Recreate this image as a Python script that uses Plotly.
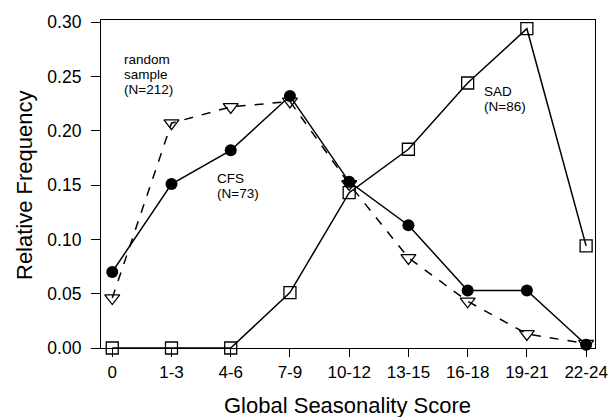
import plotly.graph_objects as go

categories = ["0", "1-3", "4-6", "7-9", "10-12", "13-15", "16-18", "19-21", "22-24"]
cfs = [0.070, 0.151, 0.182, 0.232, 0.153, 0.113, 0.053, 0.053, 0.003]
random_sample = [0.046, 0.207, 0.222, 0.227, 0.151, 0.083, 0.043, 0.013, 0.004]
sad = [0.0, 0.0, 0.0, 0.051, 0.143, 0.183, 0.244, 0.294, 0.094]
y_ticks = [0.0, 0.05, 0.10, 0.15, 0.20, 0.25, 0.30]

xs = list(range(len(categories)))
fig = go.Figure()
fig.add_trace(go.Scatter(x=xs, y=sad, mode="lines+markers", cliponaxis=False,
                         line=dict(color="black", width=1.5),
                         marker=dict(symbol="square-open", size=12, color="black", line=dict(width=1.3))))
fig.add_trace(go.Scatter(x=xs, y=random_sample, mode="lines+markers", cliponaxis=False,
                         line=dict(color="black", width=1.5, dash="dash"),
                         marker=dict(symbol="triangle-down-open", size=13, color="black", line=dict(width=1.3))))
fig.add_trace(go.Scatter(x=xs, y=cfs, mode="lines+markers", cliponaxis=False,
                         line=dict(color="black", width=1.5),
                         marker=dict(symbol="circle", size=12, color="black")))

font = dict(family="Liberation Sans, Arial, sans-serif", color="black")
L, R, T, B = 101, 15, 20, 69
fig.update_layout(
    width=610, height=417,
    margin=dict(l=L, r=R, t=T, b=B, autoexpand=False),
    paper_bgcolor="white", plot_bgcolor="white",
    showlegend=False,
    font=font,
    xaxis=dict(range=[-0.19, 8.15], tickmode="array", tickvals=xs, ticktext=categories,
               ticks="outside", ticklen=8, tickcolor="black", showgrid=False, zeroline=False,
               showline=True, linecolor="black", linewidth=1.2, mirror=True, automargin=False,
               tickfont=dict(size=17, **font)),
    yaxis=dict(range=[0, 0.302], tickmode="array", tickvals=y_ticks,
               ticktext=[f"{v:.2f}" for v in y_ticks],
               ticks="outside", ticklen=9, tickcolor="black", showgrid=False, zeroline=False,
               showline=True, linecolor="black", linewidth=1.2, mirror=True, automargin=False,
               ticklabelstandoff=6,
               tickfont=dict(size=17.5, **font)),
)
title_font = dict(size=22, **font)
pw, ph = 610 - L - R, 417 - T - B
bottom_px = 417 - B
fig.add_annotation(x=(347 - L) / pw, y=-(405 - bottom_px) / ph, xref="paper", yref="paper",
                   text="Global Seasonality Score", showarrow=False, font=title_font,
                   xanchor="center", yanchor="middle")
fig.add_annotation(x=-(L - 24) / pw, y=(bottom_px - 185) / ph, xref="paper", yref="paper",
                   text="Relative Frequency", showarrow=False, font=title_font, textangle=-90,
                   xanchor="center", yanchor="middle")

ann_font = dict(size=13.5, **font)

def label(lines, x_cat, y_top):
    for i, t in enumerate(lines):
        fig.add_annotation(x=x_cat, y=y_top, xref="x", yref="y", text=t,
                           showarrow=False, xanchor="left", yanchor="middle", align="left",
                           yshift=-15 * i, font=ann_font)

label(["random", "sample", "(N=212)"], 0.17, 0.266)
label(["CFS", "(N=73)"], 1.73, 0.156)
label(["SAD", "(N=86)"], 6.24, 0.236)

fig.write_html("out.html", config={"displayModeBar": False},
               post_script="document.body.style.margin='0';document.body.style.padding='0';")
